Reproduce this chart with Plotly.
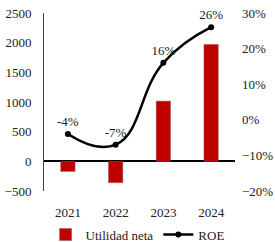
import plotly.graph_objects as go

years = ["2021", "2022", "2023", "2024"]
utilidad_neta = [-170, -360, 1015, 1970]
roe = [-4, -7, 16, 26]
roe_labels = ["-4%", "-7%", "16%", "26%"]

fig = go.Figure()
fig.add_trace(go.Bar(
    x=years, y=utilidad_neta, name="Utilidad neta",
    marker=dict(color="#C00000", line=dict(color="#A05050", width=0.5)),
    width=0.3, yaxis="y",
))
fig.add_trace(go.Scatter(
    x=years, y=roe, name="ROE", yaxis="y2",
    mode="lines+markers+text",
    line=dict(color="black", width=2.5, shape="spline", smoothing=1.3),
    marker=dict(color="black", size=6),
    text=roe_labels, textposition="top center",
    textfont=dict(color="#222222", size=13),
    cliponaxis=False,
))

fig.update_layout(
    width=275, height=242,
    margin=dict(l=44, r=40, t=13, b=51, autoexpand=False),
    paper_bgcolor="white", plot_bgcolor="white",
    font=dict(family="Liberation Serif", size=13, color="#222222"),
    showlegend=True,
    legend=dict(orientation="h", x=0.49, xanchor="center", y=-0.245, yanchor="middle",
                font=dict(size=13), tracegroupgap=0, itemwidth=30),
    bargap=0.7,
    xaxis=dict(showgrid=False, showline=False, ticks="", zeroline=False,
               ticklabelstandoff=12),
    yaxis=dict(range=[-500, 2500], dtick=500, showgrid=False, showline=True,
               linecolor="#444444", linewidth=1, zeroline=True, zerolinecolor="black",
               zerolinewidth=1.5, ticks="", tickformat="d", ticklabelstandoff=9),
    yaxis2=dict(range=[-20, 30], dtick=10, overlaying="y", side="right",
                showgrid=False, showline=False, zeroline=False, ticks="",
                ticksuffix="%", ticklabelstandoff=6),
)

fig.write_html("out.html", post_script="document.body.style.margin='0';",
               config={"displayModeBar": False})
